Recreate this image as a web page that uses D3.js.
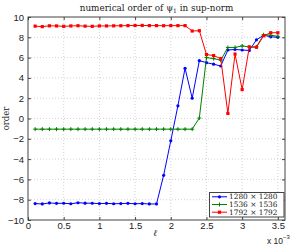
<!DOCTYPE html>
<html><head><meta charset="utf-8">
<script src="https://cdn.jsdelivr.net/npm/d3@7"></script>
<style>html,body{margin:0;padding:0;background:#fff}</style>
</head><body>
<svg id="c" width="290" height="245"></svg>
<script>
const xs = [0.1,0.2,0.3,0.4,0.5,0.6,0.7,0.8,0.9,1.0,1.1,1.2,1.3,1.4,1.5,1.6,1.7,1.8,1.9,2.0,2.1,2.2,2.3,2.4,2.5,2.6,2.7,2.8,2.9,3.0,3.1,3.2,3.3,3.4,3.5];
const blue = [-8.38,-8.42,-8.32,-8.36,-8.35,-8.4,-8.3,-8.34,-8.35,-8.38,-8.36,-8.4,-8.38,-8.36,-8.4,-8.38,-8.42,-8.42,-5.6,-2.2,1.25,4.95,2.0,5.7,5.5,5.35,5.17,6.75,6.8,6.75,6.7,7.75,8.2,8.05,8.0];
const green = [-1.05,-1.05,-1.05,-1.05,-1.05,-1.05,-1.05,-1.05,-1.05,-1.05,-1.05,-1.05,-1.05,-1.05,-1.05,-1.05,-1.05,-1.05,-1.05,-1.05,-1.05,-1.05,-1.05,0.05,6.0,5.9,5.75,7.0,7.0,7.15,7.05,7.05,8.25,8.2,8.1];
const red = [9.1,9.05,9.13,9.12,9.08,9.12,9.14,9.1,9.08,9.12,9.12,9.13,9.14,9.15,9.16,9.17,9.15,9.15,9.14,9.15,9.15,9.15,8.62,8.65,6.3,6.2,5.9,0.5,6.35,2.85,7.05,7.02,8.15,8.45,8.45];
const xTicks = [0,0.5,1,1.5,2,2.5,3,3.5];
const xTickLabels = ["0","0.5","1","1.5","2","2.5","3","3.5"];
const yTicks = [-10,-8,-6,-4,-2,0,2,4,6,8,10];
const seriesNames = ["1280 \u00d7 1280","1536 \u00d7 1536","1792 \u00d7 1792"];
const seriesColors = ["#0000ff","#008000","#ff0000"];
const seriesMarkers = ["dot","plus","square"];
const titleText = "numerical order of \u03c8";

const svg = d3.select("#c");
const L=28, R=285, T=17, B=220;
const x = d3.scaleLinear().domain([0,3.6]).range([L,R]);
const y = d3.scaleLinear().domain([-10,10]).range([B,T]);
const sans = "Liberation Sans, Arial, sans-serif";
const serif = "DejaVu Serif, serif";

// grid
const g = svg.append("g");
g.selectAll(".gx").data(xTicks.filter(d=>d>0)).enter().append("line")
  .attr("x1",d=>x(d)).attr("x2",d=>x(d)).attr("y1",T).attr("y2",B)
  .attr("stroke","#c8c8c8").attr("stroke-width",0.8).attr("stroke-dasharray","1,2");
g.selectAll(".gy").data(yTicks.filter(d=>d>-10&&d<10)).enter().append("line")
  .attr("x1",L).attr("x2",R).attr("y1",d=>y(d)).attr("y2",d=>y(d))
  .attr("stroke","#c8c8c8").attr("stroke-width",0.8).attr("stroke-dasharray","1,2");

// axes
const xa = svg.append("g").attr("transform",`translate(0,${B})`)
  .call(d3.axisBottom(x).tickValues(xTicks).tickFormat((d,i)=>xTickLabels[i]).tickSizeInner(-3).tickSizeOuter(0).tickPadding(2));
const xt = svg.append("g").attr("transform",`translate(0,${T})`)
  .call(d3.axisTop(x).tickValues(xTicks).tickFormat("").tickSizeInner(-3).tickSizeOuter(0));
const ya = svg.append("g").attr("transform",`translate(${L},0)`)
  .call(d3.axisLeft(y).tickValues(yTicks).tickFormat(d=>d<0?"\u2212"+(-d):d).tickSizeInner(-3).tickSizeOuter(0).tickPadding(4));
const yr = svg.append("g").attr("transform",`translate(${R},0)`)
  .call(d3.axisRight(y).tickValues(yTicks).tickFormat("").tickSizeInner(-3).tickSizeOuter(0));
[xa,xt,ya,yr].forEach(a=>{
  a.selectAll(".domain").remove();
  a.selectAll("line").attr("stroke","#444");
  a.selectAll("text").attr("font-family",sans).attr("font-size",9.5).attr("fill","#222");
});
svg.append("rect").attr("x",L).attr("y",T).attr("width",R-L).attr("height",B-T)
  .attr("fill","none").attr("stroke","#444").attr("stroke-width",1);

// series
const sets = [blue,green,red];
const line = d3.line().x((d,i)=>x(xs[i])).y(d=>y(d));
function marker(sel, type, color){
  if(type==="dot"){
    sel.append("circle").attr("r",1.6).attr("fill",color);
  } else if(type==="plus"){
    sel.append("path").attr("d","M-2,0H2M0,-2V2").attr("stroke",color).attr("stroke-width",1);
  } else {
    sel.append("rect").attr("x",-1.6).attr("y",-1.6).attr("width",3.2).attr("height",3.2).attr("fill",color);
  }
}
sets.forEach((s,k)=>{
  svg.append("path").datum(s).attr("d",line).attr("fill","none")
    .attr("stroke",seriesColors[k]).attr("stroke-width",1);
  const pts = svg.append("g").selectAll("g").data(s).enter().append("g")
    .attr("transform",(d,i)=>`translate(${x(xs[i])},${y(d)})`);
  pts.each(function(){ marker(d3.select(this), seriesMarkers[k], seriesColors[k]); });
});

// title
const tt = svg.append("text").attr("x",(L+R)/2).attr("y",11).attr("text-anchor","middle")
  .attr("font-family",serif).attr("font-size",8.8).attr("fill","#222");
tt.append("tspan").text(titleText);
tt.append("tspan").attr("font-size",6).attr("dy",2).text("1");
tt.append("tspan").attr("dy",-2).text(" in sup-norm");

// axis labels
svg.append("text").attr("transform",`translate(9,${(T+B)/2}) rotate(-90)`).attr("text-anchor","middle")
  .attr("font-family",serif).attr("font-size",8.5).attr("fill","#222").text("order");
svg.append("text").attr("x",155).attr("y",236).attr("text-anchor","middle")
  .attr("font-family",serif).attr("font-style","italic").attr("font-size",9).attr("fill","#222").text("\u2113");
const ex = svg.append("text").attr("x",267).attr("y",244).attr("font-family",sans).attr("font-size",8.5).attr("fill","#222");
ex.append("tspan").text("x 10");
ex.append("tspan").attr("dy",-5).attr("font-size",6).text("\u22123");

// legend
const lg = svg.append("g");
lg.append("rect").attr("x",209.5).attr("y",192.5).attr("width",74.5).attr("height",24.5)
  .attr("fill","#fff").attr("stroke","#444").attr("stroke-width",1);
seriesNames.forEach((n,k)=>{
  const yy = 196.8 + k*7.7;
  lg.append("line").attr("x1",212).attr("x2",227).attr("y1",yy).attr("y2",yy)
    .attr("stroke",seriesColors[k]).attr("stroke-width",1);
  const m = lg.append("g").attr("transform",`translate(219.5,${yy})`);
  marker(m, seriesMarkers[k], seriesColors[k]);
  lg.append("text").attr("x",229).attr("y",yy+2.6).attr("font-family",serif)
    .attr("font-size",7.4).attr("fill","#222").text(n);
});
</script>
</body></html>
